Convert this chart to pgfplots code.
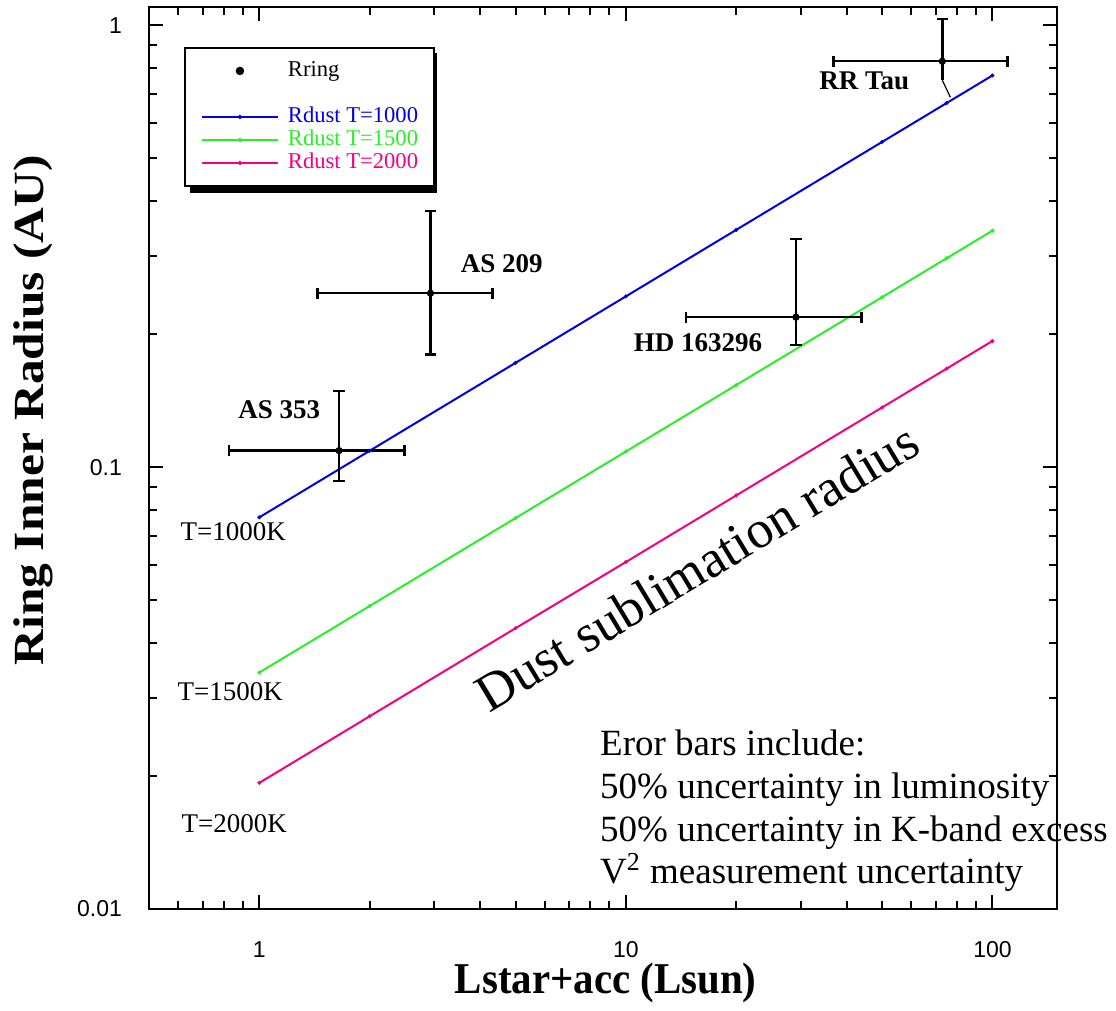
\documentclass[border=0pt]{standalone}
\usepackage{fontspec}
\setmainfont{Liberation Serif}
\newfontfamily\sansfont{Liberation Sans}
\usepackage{graphicx}
\usepackage{pgfplots}
\pgfplotsset{compat=1.18}
\definecolor{cblue}{RGB}{0,0,230}
\definecolor{cgreen}{RGB}{40,240,40}
\definecolor{cpink}{RGB}{245,0,130}

\begin{document}
\begin{tikzpicture}
\begin{axis}[
  scale only axis, width=454pt, height=451pt,
  xmode=log, ymode=log,
  xmin=0.5, xmax=150, ymin=0.01, ymax=1.1,
  clip=false,
  axis line style={line width=1pt},
  tick style={line width=1pt, black},
  major tick length=7pt, minor tick length=4pt,
  xtick={1,10,100}, xticklabels={1,10,100},
  ytick={0.01,0.1,1}, yticklabels={0.01,0.1,1},
  minor xtick={0.6,0.7,0.8,0.9,2,3,4,5,6,7,8,9,20,30,40,50,60,70,80,90},
  minor ytick={0.02,0.03,0.04,0.05,0.06,0.07,0.08,0.09,0.2,0.3,0.4,0.5,0.6,0.7,0.8,0.9},
  ticklabel style={font=\sansfont\fontsize{11.5}{12}\selectfont},
  xticklabel style={yshift=-12.7pt},
  yticklabel style={xshift=-10pt},
  xlabel={\scalebox{0.93}[1]{Lstar+acc (Lsun)}},
  ylabel={\scalebox{1.15}[1]{Ring Inner Radius (AU)}},
  every axis x label/.style={at={(axis description cs:0.503,-0.0942)}, anchor=base,
    font=\bfseries\fontsize{22}{24}\selectfont},
  every axis y label/.style={at={(axis description cs:-0.1162,0.553)}, rotate=90, anchor=base,
    font=\bfseries\fontsize{21.5}{24}\selectfont},
  legend style={at={(0.0385,0.9557)}, anchor=north west, draw=black, line width=1pt,
    fill=white, inner xsep=8pt, inner ysep=6.5pt,
    font=\fontsize{11.3}{12}\selectfont, row sep=1.5pt,
    nodes={inner sep=0pt, text height=8pt, text depth=2pt},
    /tikz/every odd column/.append style={column sep=4.5pt}},
  legend cell align=left,
  legend image code/.code={\draw[mark repeat=2,mark phase=2,#1] plot coordinates {(0pt,0pt) (19pt,0pt) (38pt,0pt)};},
]
\addlegendimage{only marks, mark=*, black, mark size=1.6pt}
\addlegendentry{Rring}
\addlegendimage{empty legend}
\addlegendentry{}
\addlegendimage{cblue, line width=1pt, mark=*, mark size=0.5pt}
\addlegendentry{\textcolor{cblue}{Rdust T=1000}\hspace{-3.5pt}}
\addlegendimage{cgreen, line width=1pt, mark=*, mark size=0.5pt}
\addlegendentry{\textcolor{cgreen}{Rdust T=1500}\hspace{-3.5pt}}
\addlegendimage{cpink, line width=1pt, mark=*, mark size=0.5pt}
\addlegendentry{\textcolor{cpink}{Rdust T=2000}\hspace{-3.5pt}}

% legend shadow (drawn before the legend box, which covers it)
\fill[black] (axis description cs:0.04515,0.7938) rectangle (axis description cs:0.3172,0.949);

% Dust sublimation radius lines
\addplot[forget plot, cblue, line width=1pt, mark=*, mark size=0.4pt] coordinates {
 (1,0.077) (2,0.1089) (5,0.1722) (10,0.2435) (20,0.3444) (50,0.5445) (75,0.6668) (100,0.77)};
\addplot[forget plot, cgreen, line width=1pt, mark=*, mark size=0.4pt] coordinates {
 (1,0.0343) (2,0.0485) (5,0.0767) (10,0.1085) (20,0.1534) (50,0.2425) (75,0.2970) (100,0.343)};
\addplot[forget plot, cpink, line width=1pt, mark=*, mark size=0.4pt] coordinates {
 (1,0.0193) (2,0.0273) (5,0.0432) (10,0.0610) (20,0.0863) (50,0.1365) (75,0.1671) (100,0.193)};

% error bars: horizontal (luminosity) and vertical (radius)
\pgfplotsset{hbar/.style={forget plot, black, line width=1.2pt, mark=|, mark size=2.8pt, mark options={solid, line width=1.2pt}},
             vbar/.style={forget plot, black, line width=1.2pt, mark=-, mark size=2.8pt, mark options={solid, line width=1.2pt}}}
% AS 353
\addplot[hbar] coordinates {(0.828,0.109) (2.49,0.109)};
\addplot[vbar] coordinates {(1.65,0.093) (1.65,0.1486)};
% AS 209
\addplot[hbar] coordinates {(1.44,0.2475) (4.33,0.2475)};
\addplot[vbar] coordinates {(2.93,0.180) (2.93,0.3795)};
% HD 163296
\addplot[hbar] coordinates {(14.6,0.2185) (43.9,0.2185)};
\addplot[vbar] coordinates {(29.1,0.1888) (29.1,0.328)};
% RR Tau
\addplot[hbar] coordinates {(36.8,0.829) (109.9,0.829)};
\addplot[vbar, mark indices={2}] coordinates {(73,0.829) (73,1.032)};
\addplot[forget plot, black, line width=1.2pt] coordinates {(73,0.829) (73,0.751)};
\addplot[forget plot, black, line width=0.6pt] coordinates {(73,0.751) (76.8,0.687)};
% ring radii
\addplot[forget plot, black, only marks, mark=*, mark size=1.6pt] coordinates {
 (1.65,0.109) (2.93,0.2475) (29.1,0.2185) (73,0.829)};

% annotations
\node[font=\bfseries\fontsize{13.5}{15}\selectfont] at (axis cs:1.134,0.1352) {AS 353};
\node[font=\bfseries\fontsize{13.5}{15}\selectfont] at (axis cs:4.583,0.2893) {AS 209};
\node[font=\bfseries\fontsize{13.5}{15}\selectfont] at (axis cs:15.73,0.1908) {HD 163296};
\node[font=\bfseries\fontsize{13.5}{15}\selectfont] at (axis cs:44.7,0.747) {RR Tau};
\node[font=\fontsize{13.5}{15}\selectfont] at (axis cs:0.849,0.0716) {T=1000K};
\node[font=\fontsize{13.5}{15}\selectfont] at (axis cs:0.833,0.03112) {T=1500K};
\node[font=\fontsize{13.5}{15}\selectfont] at (axis cs:0.8545,0.01557) {T=2000K};
\node[rotate=31.1, font=\fontsize{26.5}{28}\selectfont] at (axis cs:15.63,0.0594) {Dust sublimation radius};
\node[anchor=base west, inner sep=0pt, font=\fontsize{18.5}{20}\selectfont] at (axis cs:8.49,0.02231) {Eror bars include:};
\node[anchor=base west, inner sep=0pt, font=\fontsize{18.5}{20}\selectfont] at (axis cs:8.49,0.01783) {50\% uncertainty in luminosity};
\node[anchor=base west, inner sep=0pt, font=\fontsize{18.5}{20}\selectfont] at (axis cs:8.49,0.01425) {50\% uncertainty in K-band excess};
\node[anchor=base west, inner sep=0pt, font=\fontsize{18.5}{20}\selectfont] at (axis cs:8.49,0.01145) {V\textsuperscript{2} measurement uncertainty};
\end{axis}
\pgfresetboundingbox
\path[use as bounding box] (-74.5pt,-51pt) rectangle (483.5pt,454.5pt);
\end{tikzpicture}
\end{document}
